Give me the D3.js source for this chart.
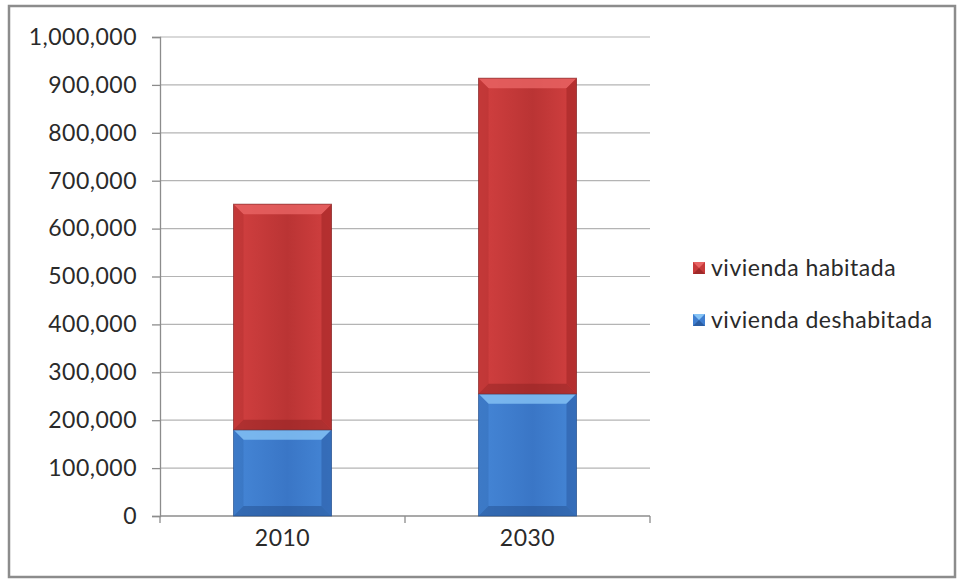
<!DOCTYPE html>
<html><head><meta charset="utf-8">
<script src="https://cdn.jsdelivr.net/npm/d3@7"></script>
<style>body{margin:0;background:#fff;}svg{display:block;}</style>
</head><body>
<svg id="c" width="959" height="580"></svg>
<script>
const categories = ["2010", "2030"];
const seriesNames = ["vivienda deshabitada", "vivienda habitada"];
const deshabitada = [180000, 255000];
const habitada = [471000, 659000];
const yTicks = [0,100000,200000,300000,400000,500000,600000,700000,800000,900000,1000000];

const svg = d3.select("#c");
const font = "Lato, 'Open Sans', sans-serif";
const fs = 23;
const W = 959, H = 580;
const plot = {left:160, right:650, top:37, bottom:516};

svg.append("rect").attr("x",9).attr("y",6).attr("width",W-13).attr("height",H-9)
  .attr("fill","#fff").attr("stroke","#8c8c8c").attr("stroke-width",2.5);

const x = d3.scaleBand().domain(categories).range([plot.left, plot.right]).paddingInner(0.6).paddingOuter(0.3);
const y = d3.scaleLinear().domain([0,1000000]).range([plot.bottom, plot.top]);

svg.append("g").selectAll("line").data(yTicks.slice(1)).join("line")
  .attr("x1",plot.left).attr("x2",plot.right)
  .attr("y1",d=>y(d)).attr("y2",d=>y(d))
  .attr("stroke","#b4b4b4").attr("stroke-width",1.2);

const fmt = d3.format(",");
const yAxis = svg.append("g").attr("transform",`translate(${plot.left},0)`)
  .call(d3.axisLeft(y).tickValues(yTicks).tickFormat(d=>fmt(d)).tickSize(8).tickPadding(15));
yAxis.select(".domain").attr("stroke","#8c8c8c").attr("stroke-width",1.3);
yAxis.selectAll(".tick line").attr("stroke","#8c8c8c").attr("stroke-width",1.3);
yAxis.selectAll("text").attr("font-family",font).attr("font-size",fs).attr("fill","#2a2a2a").attr("letter-spacing","0.5px");

const xAxis = svg.append("g").attr("transform",`translate(0,${plot.bottom})`)
  .call(d3.axisBottom(x).tickSize(0).tickPadding(14));
xAxis.select(".domain").remove();
xAxis.selectAll("text").attr("font-family",font).attr("font-size",fs).attr("fill","#2a2a2a").attr("letter-spacing","0.5px");
svg.append("line").attr("x1",plot.left).attr("x2",plot.right).attr("y1",plot.bottom).attr("y2",plot.bottom)
  .attr("stroke","#8c8c8c").attr("stroke-width",1.3);
const xb = [plot.left].concat(categories.map((c,i)=> i<categories.length-1 ? (x(c)+x.bandwidth()+x(categories[i+1]))/2 : null).filter(v=>v!==null)).concat([plot.right]);
svg.append("g").selectAll("line").data(xb).join("line")
  .attr("x1",d=>d).attr("x2",d=>d).attr("y1",plot.bottom).attr("y2",plot.bottom+7)
  .attr("stroke","#8c8c8c").attr("stroke-width",1.3);

const palettes = {
  "vivienda habitada": {main:"#c73a3a", light:"#d24040", center:"#ba3434", top:"#e86464", side:"#a82a2a", bottom:"#8f2222", edge:"#7a1e1e"},
  "vivienda deshabitada": {main:"#3f7ed0", light:"#4586d6", center:"#3a76c6", top:"#86c3f5", side:"#2f63ad", bottom:"#24508f", edge:"#1f4a85"}
};

const defs = svg.append("defs");
Object.entries(palettes).forEach(([k,p],i)=>{
  const g = defs.append("linearGradient").attr("id","g"+i).attr("x1","0").attr("x2","1").attr("y1","0").attr("y2","0");
  g.append("stop").attr("offset","0%").attr("stop-color",p.light);
  g.append("stop").attr("offset","55%").attr("stop-color",p.center);
  g.append("stop").attr("offset","100%").attr("stop-color",p.light);
  p.grad = "url(#g"+i+")";
});

const stacked = d3.stack().keys(seriesNames)(categories.map((c,i)=>({cat:c, "vivienda deshabitada":deshabitada[i], "vivienda habitada":habitada[i]})));

function bevelBar(g, x0, y0, w, h, p){
  const b = Math.min(10, h/2);
  g.append("rect").attr("x",x0).attr("y",y0).attr("width",w).attr("height",h).attr("fill",p.grad);
  g.append("path").attr("d",`M${x0},${y0}L${x0+w},${y0}L${x0+w-b},${y0+b}L${x0+b},${y0+b}Z`).attr("fill",p.top).attr("opacity",0.8);
  g.append("path").attr("d",`M${x0},${y0+h}L${x0+w},${y0+h}L${x0+w-b},${y0+h-b}L${x0+b},${y0+h-b}Z`).attr("fill",p.bottom).attr("opacity",0.5);
  g.append("path").attr("d",`M${x0},${y0}L${x0+b},${y0+b}L${x0+b},${y0+h-b}L${x0},${y0+h}Z`).attr("fill",p.side).attr("opacity",0.35);
  g.append("path").attr("d",`M${x0+w},${y0}L${x0+w-b},${y0+b}L${x0+w-b},${y0+h-b}L${x0+w},${y0+h}Z`).attr("fill",p.side).attr("opacity",0.7);
  g.append("rect").attr("x",x0).attr("y",y0).attr("width",w).attr("height",h).attr("fill","none").attr("stroke",p.edge).attr("stroke-width",1).attr("opacity",0.6);
}

stacked.forEach(s=>{
  const p = palettes[s.key];
  s.forEach(d=>{
    const g = svg.append("g");
    bevelBar(g, x(d.data.cat), y(d[1]), x.bandwidth(), y(d[0])-y(d[1]), p);
  });
});

const legendItems = ["vivienda habitada", "vivienda deshabitada"];
const lg = svg.append("g");
legendItems.forEach((k,i)=>{
  const yy = 268 + i*52;
  const p = palettes[k];
  const gg = lg.append("g");
  const s = 12, x0 = 693, y0 = yy - s/2;
  gg.append("rect").attr("x",x0).attr("y",y0).attr("width",s).attr("height",s).attr("fill",p.main);
  gg.append("path").attr("d",`M${x0},${y0}L${x0+s},${y0}L${x0+s/2},${y0+s/2}Z`).attr("fill",p.top);
  gg.append("path").attr("d",`M${x0},${y0+s}L${x0+s},${y0+s}L${x0+s/2},${y0+s/2}Z`).attr("fill",p.bottom).attr("opacity",0.7);
  gg.append("text").attr("x",711).attr("y",yy).attr("dy","0.35em")
    .attr("font-family",font).attr("font-size",fs).attr("fill","#2a2a2a").attr("letter-spacing","0.5px").text(k);
});
</script>
</body></html>
